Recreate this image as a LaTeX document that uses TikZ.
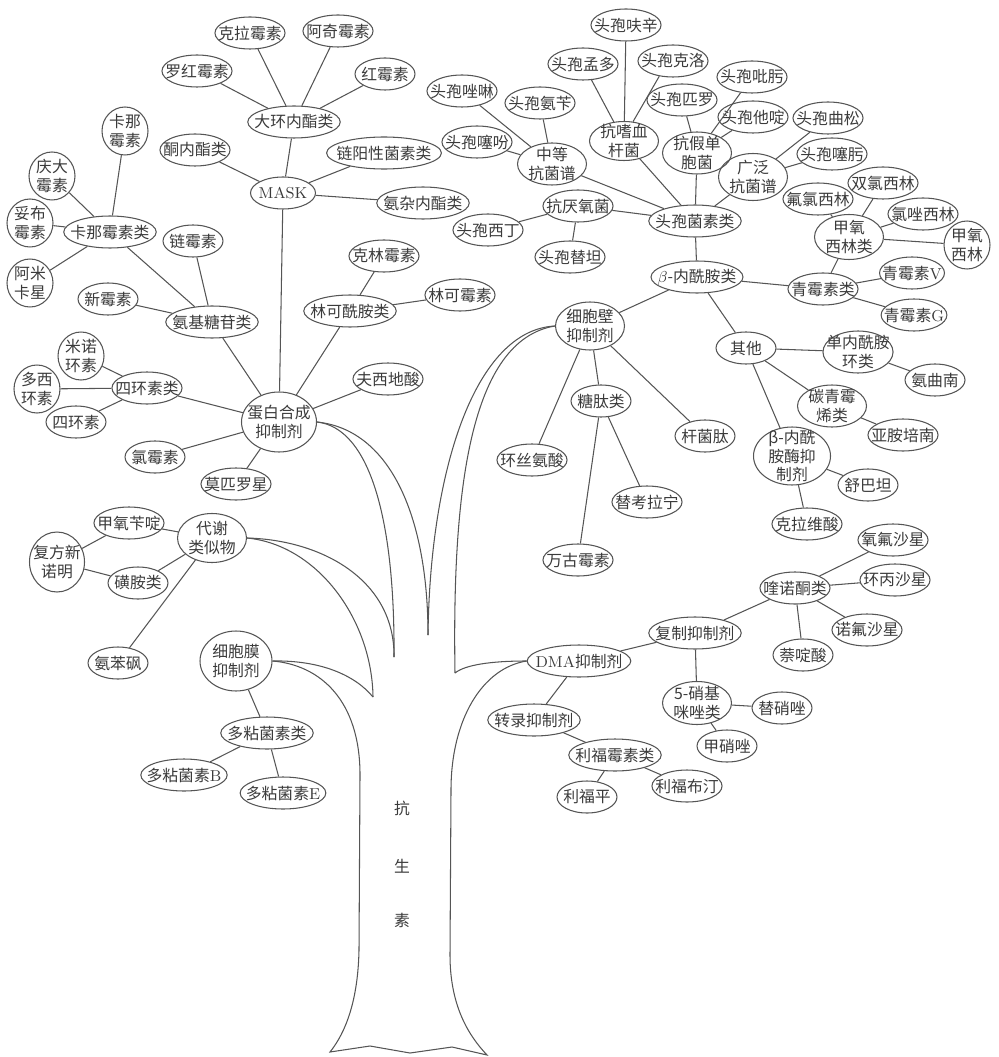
\documentclass[tikz,border=0pt]{standalone}
\usepackage{fontspec}
\newfontfamily\cjk{Noto Sans CJK SC}
\usetikzlibrary{shapes.geometric}
\definecolor{inkline}{HTML}{555555}
\definecolor{inktext}{HTML}{3A3A3A}

\begin{document}
\begin{tikzpicture}[x=0.02cm,y=-0.02cm,
	line width=0.6pt,draw=inkline,
	drug/.style={ellipse,draw=inkline,text=inktext,inner xsep=-3.9pt,inner ysep=-2pt,
		minimum width=1.2cm,minimum height=0.64cm,align=center,
		font=\cjk\fontsize{9}{10.5}\selectfont},
	group/.style={drug,minimum width=1.38cm,minimum height=0.84cm},
	round2/.style={drug,minimum width=0.92cm,minimum height=0.96cm},
	trunktext/.style={text=inktext,font=\cjk\fontsize{9}{10.5}\selectfont}]
	\useasboundingbox (0,0) rectangle (999,1057);

	% macrolides
	\node[drug] (kla) at (250,33) {克拉霉素};
	\node[drug] (aqi) at (338,31) {阿奇霉素};
	\node[drug] (luo) at (197,71) {罗红霉素};
	\node[drug] (hong) at (385,74) {红霉素};
	\node[drug] (dahuan) at (294,122) {大环内酯类};
	\node[drug] (tong) at (195,150) {酮内酯类};
	\node[drug] (lianyang) at (384,153) {链阳性菌素类};
	\node[drug,minimum width=1.3cm] (mask) at (283,193) {{\rmfamily MASK}};
	\node[drug] (anza) at (423,203) {氨杂内酯类};

	% aminoglycosides
	\node[round2] (kana) at (125,131) {卡那\\霉素};
	\node[round2] (qingda) at (52,176) {庆大\\霉素};
	\node[round2] (tuobu) at (30,223) {妥布\\霉素};
	\node[drug] (kanalei) at (110,232) {卡那霉素类};
	\node[round2] (ami) at (30,283) {阿米\\卡星};
	\node[drug] (lianmei) at (193,241) {链霉素};
	\node[drug] (xinmei) at (108,299) {新霉素};
	\node[drug] (anji) at (212,322) {氨基糖苷类};

	% lincosamides
	\node[drug] (linke) at (350,311) {林可酰胺类};
	\node[drug] (kelin) at (384,256) {克林霉素};
	\node[drug] (linkemei) at (460,295) {林可霉素};

	% tetracyclines
	\node[round2] (minuo) at (81,356) {米诺\\环素};
	\node[round2] (duoxi) at (37,389) {多西\\环素};
	\node[drug] (sihuanlei) at (147,388) {四环素类};
	\node[drug] (sihuan) at (76,422) {四环素};

	\node[group,minimum width=1.5cm,minimum height=1.2cm] (protein) at (279,422) {蛋白合成\\抑制剂};
	\node[drug] (lvmei) at (155,457) {氯霉素};
	\node[drug] (mopi) at (236,484) {莫匹罗星};
	\node[drug] (fuxi) at (388,379) {夫西地酸};

	% metabolites
	\node[drug] (jiayang) at (129,523) {甲氧苄啶};
	\node[round2,minimum width=1.1cm,minimum height=1.2cm] (fufang) at (57,562) {复方新\\诺明};
	\node[drug] (huangan) at (138,583) {磺胺类};
	\node[group,minimum height=0.98cm] (meta) at (212,538) {代谢\\类似物};
	\node[drug] (anben) at (118,663) {氨苯砜};

	% membrane
	\node[group,minimum width=1.44cm,minimum height=1.2cm] (memb) at (236,661) {细胞膜\\抑制剂};
	\node[drug] (duonian) at (267,733) {多粘菌素类};
	\node[drug] (duonianB) at (184,775) {多粘菌素{\rmfamily B}};
	\node[drug] (duonianE) at (283,793) {多粘菌素{\rmfamily E}};

	% cephalosporins
	\node[drug] (fuxin) at (626,25) {头孢呋辛};
	\node[drug] (mengduo) at (583,64) {头孢孟多};
	\node[drug] (keluo) at (673,61) {头孢克洛};
	\node[drug] (zuolin) at (462,91) {头孢唑啉};
	\node[drug] (anbian) at (540,103) {头孢氨苄};
	\node[group,minimum height=0.78cm] (shixue) at (624,141) {抗嗜血\\杆菌};
	\node[drug] (piluo) at (682,100) {头孢匹罗};
	\node[drug] (biwo) at (752,77) {头孢吡肟};
	\node[drug] (tading) at (753,117) {头孢他啶};
	\node[group] (jiadan) at (697,153) {抗假单\\胞菌};
	\node[drug] (saifen) at (477,142) {头孢噻吩};
	\node[group] (zhongdeng) at (552,164) {中等\\抗菌谱};
	\node[drug] (qusong) at (828,118) {头孢曲松};
	\node[drug] (saiwo) at (832,154) {头孢噻肟};
	\node[group,minimum height=0.94cm] (guangfan) at (753,177) {广泛\\抗菌谱};
	\node[drug] (yanyang) at (578,206) {抗厌氧菌};
	\node[drug] (xiding) at (488,230) {头孢西丁};
	\node[drug] (titan) at (570,257) {头孢替坦};
	\node[drug] (toubao) at (695,221) {头孢菌素类};

	% penicillins
	\node[drug] (shuanglv) at (883,183) {双氯西林};
	\node[drug] (fulv) at (818,199) {氟氯西林};
	\node[drug] (lvzuo) at (923,214) {氯唑西林};
	\node[group,minimum height=0.9cm] (jiayanglei) at (849,237) {甲氧\\西林类};
	\node[round2] (jiayangxl) at (967,245) {甲氧\\西林};
	\node[drug] (beta) at (697,277) {$\beta$-内酰胺类};
	\node[drug] (qingmei) at (823,289) {青霉素类};
	\node[drug] (qingV) at (912,273) {青霉素{\rmfamily V}};
	\node[drug] (qingG) at (914,315) {青霉素{\rmfamily G}};

	% cell wall
	\node[group,minimum height=0.96cm] (cw) at (590,326) {细胞壁\\抑制剂};
	\node[drug] (qita) at (746,348) {其他};
	\node[group] (danneixian) at (858,352) {单内酰胺\\环类};
	\node[drug] (anqu) at (935,380) {氨曲南};
	\node[group] (tanqing) at (832,406) {碳青霉\\烯类};
	\node[drug] (yaan) at (903,435) {亚胺培南};
	\node[group,inner ysep=-4pt,minimum width=1.54cm,minimum height=1.16cm] (mei) at (792,456) {β-内酰\\胺酶抑\\制剂};
	\node[drug] (shuba) at (868,485) {舒巴坦};
	\node[drug] (kelawei) at (807,524) {克拉维酸};
	\node[drug] (ganjun) at (705,436) {杆菌肽};
	\node[drug] (tangtai) at (601,401) {糖肽类};
	\node[drug] (huansi) at (532,460) {环丝氨酸};
	\node[drug] (tikao) at (647,502) {替考拉宁};
	\node[drug] (wangu) at (578,560) {万古霉素};

	% nucleic acid
	\node[drug] (kuinuo) at (795,588) {喹诺酮类};
	\node[drug] (yangfu) at (893,540) {氧氟沙星};
	\node[drug] (huanbing) at (895,580) {环丙沙星};
	\node[drug] (nuofu) at (867,630) {诺氟沙星};
	\node[drug] (naiding) at (803,655) {萘啶酸};
	\node[drug] (fuzhi) at (695,633) {复制抑制剂};
	\node[drug] (dma) at (579,661) {{\rmfamily DMA}抑制剂};
	\node[group,minimum height=0.86cm] (xiaoji) at (697,703) {5-硝基\\咪唑类};
	\node[drug] (tixiao) at (782,708) {替硝唑};
	\node[drug] (jiaxiao) at (727,746) {甲硝唑};
	\node[drug] (zhuanlu) at (534,720) {转录抑制剂};
	\node[drug] (lifulei) at (615,755) {利福霉素类};
	\node[drug] (lifuping) at (587,797) {利福平};
	\node[drug] (lifubu) at (687,786) {利福布汀};

	% trunk text
	\node[trunktext] (kang) at (402,808) {抗};
	\node[trunktext] (sheng) at (402,866) {生};
	\node[trunktext] (su) at (402,920) {素};

	% edges
	\draw (dahuan) -- (kla) (dahuan) -- (aqi) (dahuan) -- (luo) (dahuan) -- (hong);
	\draw (mask) -- (dahuan) (mask) -- (tong) (mask) -- (lianyang) (mask) -- (anza);
	\draw (mask) -- (protein);
	\draw (kanalei) -- (kana) (kanalei) -- (qingda) (kanalei) -- (tuobu) (kanalei) -- (ami);
	\draw (anji) -- (kanalei) (anji) -- (lianmei) (anji) -- (xinmei);
	\draw (protein) -- (anji) (protein) -- (linke) (protein) -- (fuxi);
	\draw (linke) -- (kelin) (linke) -- (linkemei);
	\draw (sihuanlei) -- (minuo) (sihuanlei) -- (duoxi) (sihuanlei) -- (sihuan);
	\draw (protein) -- (sihuanlei) (protein) -- (lvmei) (protein) -- (mopi);
	\draw (meta) -- (jiayang) (meta) -- (huangan) (meta) -- (anben);
	\draw (fufang) -- (jiayang) (fufang) -- (huangan);
	\draw (memb) -- (duonian) (duonian) -- (duonianB) (duonian) -- (duonianE);
	\draw (shixue) -- (fuxin) (shixue) -- (mengduo) (shixue.65) -- (keluo.228);
	\draw (jiadan) -- (piluo) (jiadan) -- (biwo) (jiadan) -- (tading);
	\draw (zhongdeng) -- (zuolin) (zhongdeng) -- (anbian) (zhongdeng) -- (saifen);
	\draw (guangfan) -- (qusong) (guangfan) -- (saiwo);
	\draw (yanyang) -- (xiding) (yanyang) -- (titan);
	\draw (toubao) -- (shixue) (toubao) -- (jiadan) (toubao) -- (zhongdeng) (toubao) -- (yanyang) (toubao) -- (guangfan);
	\draw (beta) -- (toubao) (beta) -- (qingmei) (beta) -- (qita) (cw) -- (beta);
	\draw (qingmei) -- (jiayanglei) (qingmei) -- (qingV) (qingmei) -- (qingG);
	\draw (jiayanglei) -- (fulv) (jiayanglei) -- (shuanglv) (jiayanglei) -- (lvzuo) (jiayanglei) -- (jiayangxl);
	\draw (qita) -- (danneixian) (qita) -- (tanqing) (qita) -- (mei);
	\draw (danneixian) -- (anqu) (tanqing) -- (yaan) (mei) -- (shuba) (mei) -- (kelawei);
	\draw (cw) -- (ganjun) (cw) -- (tangtai) (cw) -- (huansi);
	\draw (tangtai) -- (tikao) (tangtai) -- (wangu);
	\draw (dma) -- (fuzhi) (dma) -- (zhuanlu);
	\draw (fuzhi) -- (kuinuo) (fuzhi) -- (xiaoji);
	\draw (kuinuo) -- (yangfu) (kuinuo) -- (huanbing) (kuinuo) -- (nuofu) (kuinuo) -- (naiding);
	\draw (xiaoji) -- (tixiao) (xiaoji) -- (jiaxiao);
	\draw (zhuanlu) -- (lifulei) (lifulei) -- (lifuping) (lifulei) -- (lifubu);

	% branches
	\coordinate (tipA) at (394,657);
	\coordinate (tipB) at (428,635);
	\coordinate (tipC) at (455,673);
	\coordinate (tipD) at (373,697);
	\draw (protein.east) .. controls (370,428) and (395,520) .. (tipA);
	\draw (protein.east) .. controls (392,430) and (428,520) .. (tipB);
	\draw (cw.west) .. controls (475,330) and (430,470) .. (tipB);
	\draw (cw.west) .. controls (470,340) and (452,490) .. (tipC);
	\draw (dma.west) .. controls (490,661) and (465,665) .. (tipC);
	\draw (meta.east) .. controls (322,540) and (395,580) .. (tipA);
	\draw (meta.east) .. controls (318,545) and (372,620) .. (tipD);
	\draw (memb.east) .. controls (320,660) and (355,675) .. (tipD);

	% trunk
	\draw (memb.east) .. controls (320,665) and (360,700) .. (360,775) -- (359,950)
		.. controls (358,1000) and (346,1032) .. (330,1052) -- (370,1046) -- (410,1053)
		-- (452,1047) -- (487,1055) .. controls (468,1035) and (450,1005) .. (450,955)
		-- (451,790) .. controls (451,720) and (482,668) .. (dma.west);
\end{tikzpicture}
\end{document}
